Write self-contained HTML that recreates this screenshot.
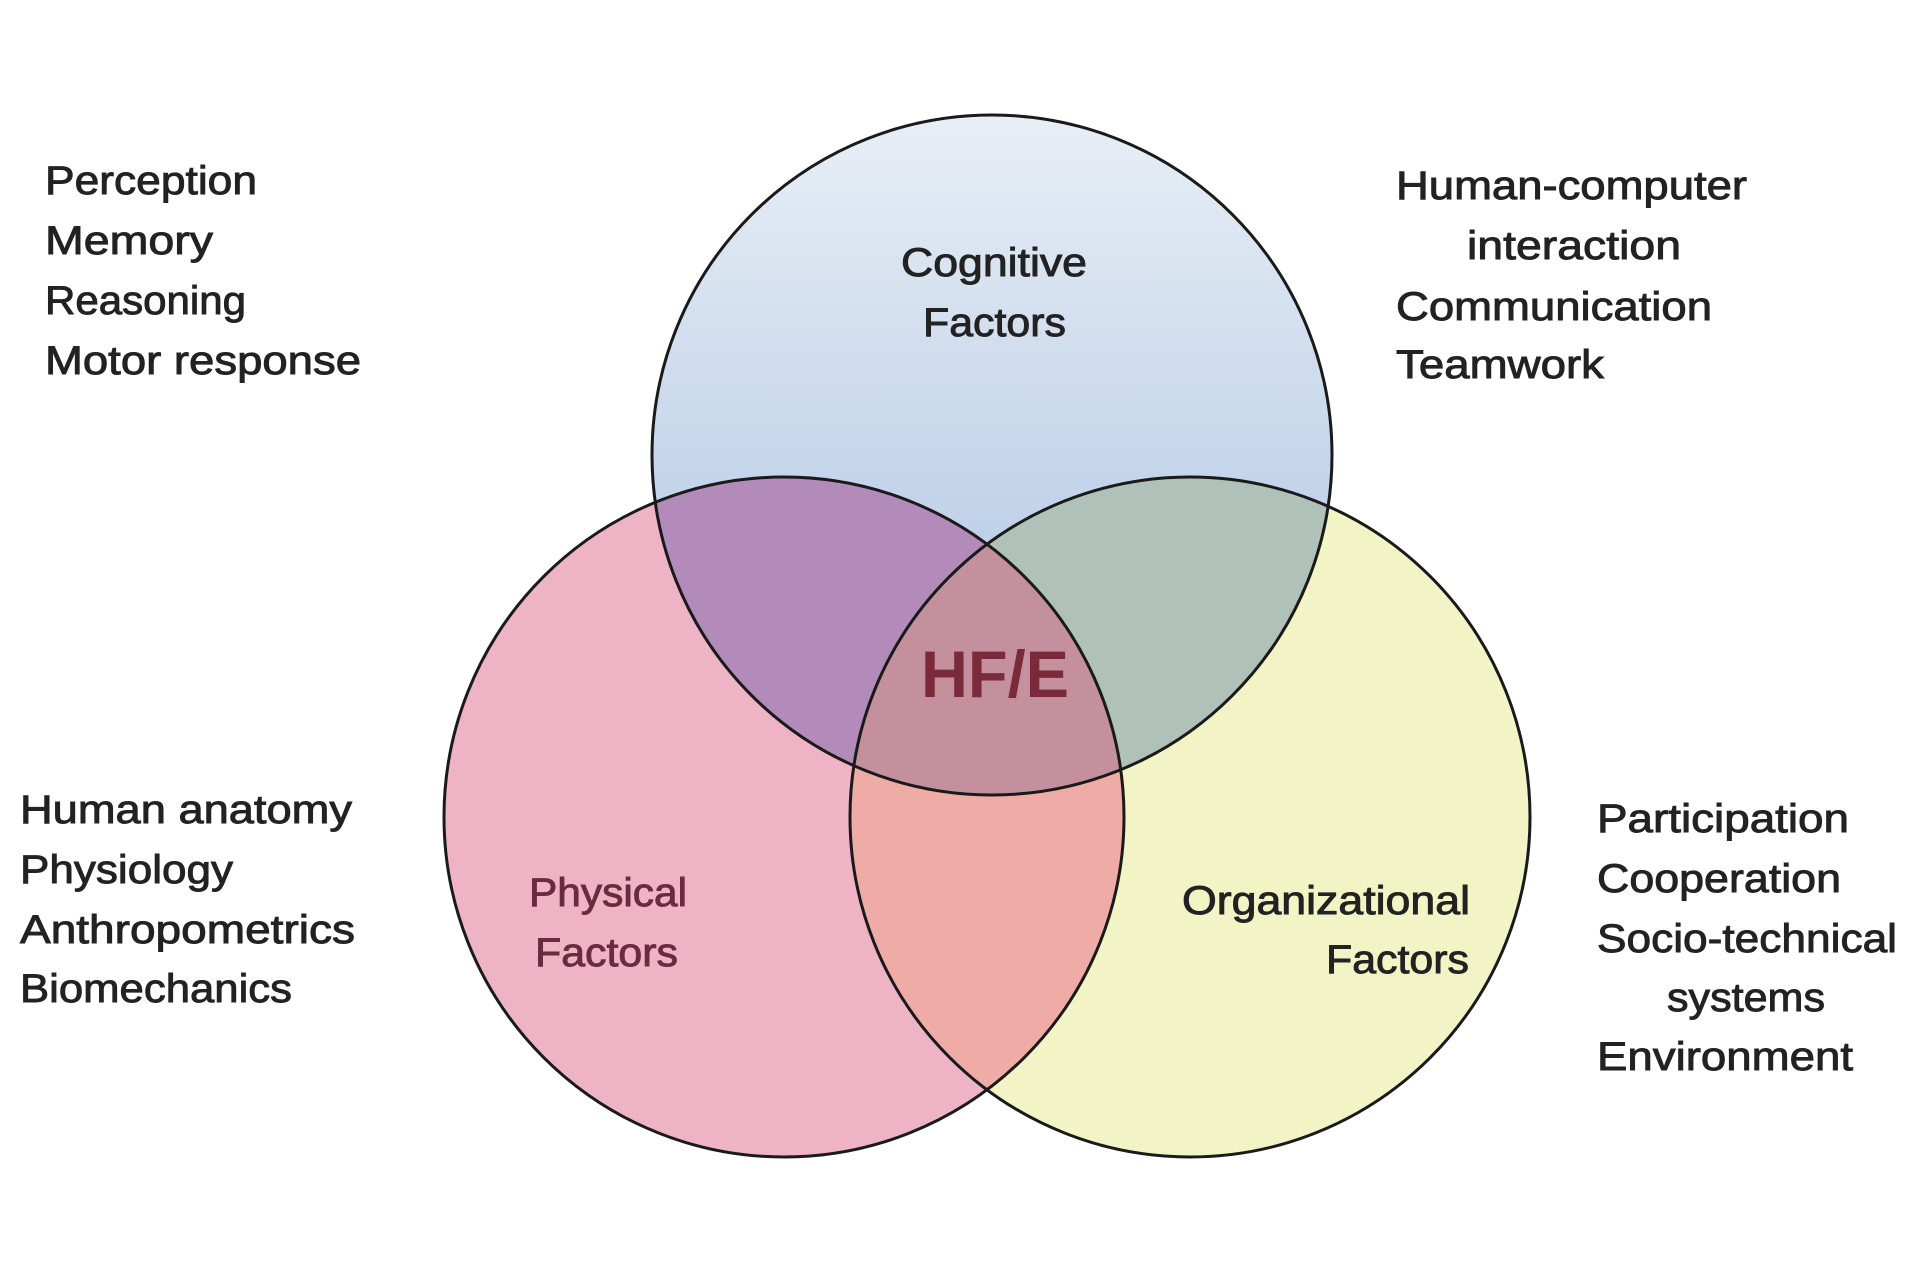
<!DOCTYPE html>
<html><head><meta charset="utf-8"><style>
html,body{margin:0;padding:0;background:#fff;}
svg{display:block}
text{font-family:"Liberation Sans",sans-serif;}
</style></head><body>
<svg width="1920" height="1280" viewBox="0 0 1920 1280" xmlns="http://www.w3.org/2000/svg">
<defs>
<linearGradient id="gb" x1="0" y1="0" x2="0" y2="1">
<stop offset="0" stop-color="#e8eef5"/><stop offset="1" stop-color="#a6bfe2"/>
</linearGradient>
<clipPath id="cT"><circle cx="992" cy="455" r="340"/></clipPath>
<clipPath id="cL"><circle cx="784" cy="817" r="340"/></clipPath>
<clipPath id="cR"><circle cx="1190" cy="817" r="340"/></clipPath>
</defs>
<rect width="1920" height="1280" fill="#fff"/>
<circle cx="992" cy="455" r="340" fill="url(#gb)"/>
<circle cx="784" cy="817" r="340" fill="#efb3c6"/>
<circle cx="1190" cy="817" r="340" fill="#f2f4c6"/>
<g clip-path="url(#cT)"><circle cx="784" cy="817" r="340" fill="#b38bba"/><circle cx="1190" cy="817" r="340" fill="#afc1b9"/></g>
<g clip-path="url(#cL)"><circle cx="1190" cy="817" r="340" fill="#efaba6"/></g>
<g clip-path="url(#cL)"><g clip-path="url(#cR)"><circle cx="992" cy="455" r="340" fill="#c4909e"/></g></g>
<g fill="none" stroke="#1a1a1a" stroke-width="3">
<circle cx="992" cy="455" r="340"/><circle cx="784" cy="817" r="340"/><circle cx="1190" cy="817" r="340"/>
</g>
<g font-size="40" fill="#222" stroke="#222" stroke-width="0.9">
<text x="45" y="194" textLength="212" lengthAdjust="spacingAndGlyphs">Perception</text>
<text x="45" y="254" textLength="168" lengthAdjust="spacingAndGlyphs">Memory</text>
<text x="45" y="314" textLength="201" lengthAdjust="spacingAndGlyphs">Reasoning</text>
<text x="45" y="374" textLength="316" lengthAdjust="spacingAndGlyphs">Motor response</text>
<text x="1396" y="199" textLength="351" lengthAdjust="spacingAndGlyphs">Human-computer</text>
<text x="1467" y="259" textLength="214" lengthAdjust="spacingAndGlyphs">interaction</text>
<text x="1396" y="320" textLength="316" lengthAdjust="spacingAndGlyphs">Communication</text>
<text x="1396" y="378" textLength="208" lengthAdjust="spacingAndGlyphs">Teamwork</text>
<text x="20" y="823" textLength="332" lengthAdjust="spacingAndGlyphs">Human anatomy</text>
<text x="20" y="883" textLength="213" lengthAdjust="spacingAndGlyphs">Physiology</text>
<text x="20" y="943" textLength="335" lengthAdjust="spacingAndGlyphs">Anthropometrics</text>
<text x="20" y="1002" textLength="272" lengthAdjust="spacingAndGlyphs">Biomechanics</text>
<text x="1597" y="832" textLength="252" lengthAdjust="spacingAndGlyphs">Participation</text>
<text x="1597" y="892" textLength="244" lengthAdjust="spacingAndGlyphs">Cooperation</text>
<text x="1597" y="952" textLength="300" lengthAdjust="spacingAndGlyphs">Socio-technical</text>
<text x="1667" y="1011" textLength="158" lengthAdjust="spacingAndGlyphs">systems</text>
<text x="1597" y="1070" textLength="256" lengthAdjust="spacingAndGlyphs">Environment</text>
<text x="901" y="276" textLength="186" lengthAdjust="spacingAndGlyphs">Cognitive</text>
<text x="923" y="336" textLength="143" lengthAdjust="spacingAndGlyphs">Factors</text>
<text x="1182" y="914" textLength="288" lengthAdjust="spacingAndGlyphs">Organizational</text>
<text x="1326" y="973" textLength="143" lengthAdjust="spacingAndGlyphs">Factors</text>
</g>
<g font-size="40" fill="#6b2a40" stroke="#6b2a40" stroke-width="0.9">
<text x="529" y="906" textLength="158" lengthAdjust="spacingAndGlyphs">Physical</text>
<text x="535" y="966" textLength="143" lengthAdjust="spacingAndGlyphs">Factors</text>
</g>
<text x="921" y="697" font-size="66" font-weight="bold" fill="#7a2a3a" textLength="148" lengthAdjust="spacingAndGlyphs">HF/E</text>
</svg>
</body></html>
